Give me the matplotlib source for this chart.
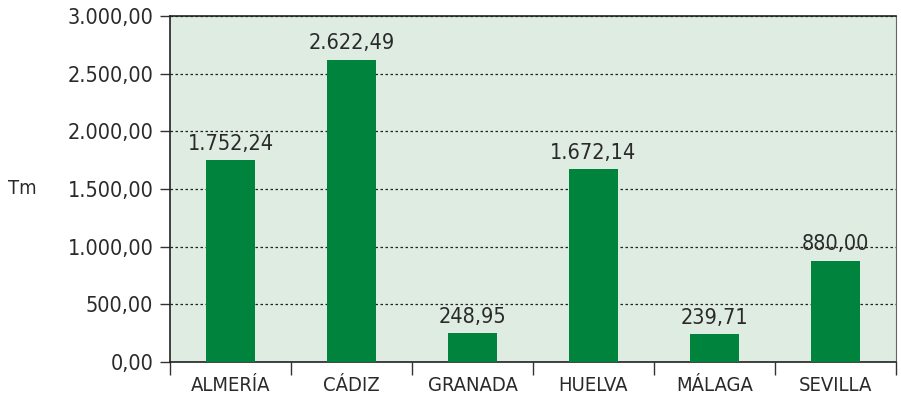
import matplotlib
matplotlib.use("Agg")
import matplotlib.pyplot as plt
from matplotlib.ticker import FuncFormatter, FixedLocator

provincias = ["ALMERÍA", "CÁDIZ", "GRANADA", "HUELVA", "MÁLAGA", "SEVILLA"]
toneladas = [1752.24, 2622.49, 248.95, 1672.14, 239.71, 880.00]
y_ticks = [0, 500, 1000, 1500, 2000, 2500, 3000]


def es_num(v):
    # 1234.5 -> "1.234,50"
    s = f"{v:,.2f}"
    return s.replace(",", "X").replace(".", ",").replace("X", ".")


plt.rcParams["font.family"] = ["DejaVu Sans"]
plt.rcParams["font.stretch"] = "condensed"

fig = plt.figure(figsize=(9.01, 3.99), dpi=100)
ax = fig.add_axes([170 / 901, 1 - 362 / 399, 726 / 901, 346 / 399])
ax.set_facecolor("#deece2")

x = range(len(provincias))
bars = ax.bar(x, toneladas, width=0.41, color="#00843d", zorder=3)

for b, v in zip(bars, toneladas):
    ax.text(b.get_x() + b.get_width() / 2, v + 55, es_num(v),
            ha="center", va="bottom", fontsize=15.5, color="#2a2a2a")

ax.set_xlim(-0.5, len(provincias) - 0.5)
ax.set_ylim(0, 3000)
ax.set_yticks(y_ticks)
ax.yaxis.set_major_formatter(FuncFormatter(lambda v, p: es_num(v)))
ax.yaxis.grid(True, color="#222222", linestyle=(0, (2, 2)), linewidth=0.9, zorder=1)

# category labels centred, ticks between categories
ax.set_xticks(list(x))
ax.set_xticklabels(provincias)
ax.tick_params(axis="x", length=0, pad=10, labelsize=14.5, colors="#2a2a2a")
ax.xaxis.set_minor_locator(FixedLocator([i - 0.5 for i in range(len(provincias) + 1)]))
ax.tick_params(axis="x", which="minor", length=9, width=1, color="#333333")
ax.tick_params(axis="y", length=7, width=1, color="#333333", labelsize=15.5, labelcolor="#2a2a2a", pad=5)

for side in ["left", "bottom", "top"]:
    ax.spines[side].set_color("#222222")
    ax.spines[side].set_linewidth(1.2)
ax.spines["right"].set_color("#666666")

fig.text(22 / 901, 1 - 189 / 399, "Tm", ha="center", va="center", fontsize=14.5, color="#2a2a2a")

fig.savefig("out.png", dpi=100)
